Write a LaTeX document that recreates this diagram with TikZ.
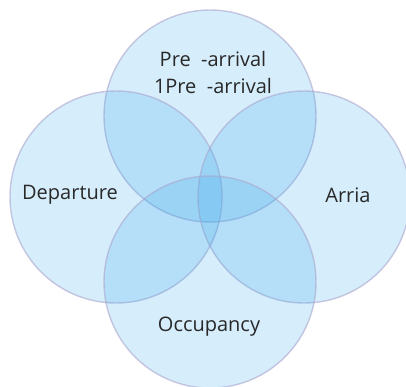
\documentclass[tikz,border=0pt]{standalone}
\usepackage{fontspec}
\setmainfont{Open Sans}
\begin{document}
\begin{tikzpicture}[x=1pt,y=-1pt,
  venn/.style={circle,minimum size=212pt,inner sep=0pt,fill={rgb,255:red,50;green,165;blue,235},fill opacity=0.2,draw={rgb,255:red,170;green,165;blue,205},draw opacity=0.6,line width=1.4pt},
  lbl/.style={text={rgb,255:red,40;green,40;blue,40},font=\fontsize{20}{27}\selectfont,align=center}]
\useasboundingbox (0,0) rectangle (406,386);
\node[venn] (top) at (210,116) {};
\node[venn] (left) at (116,197) {};
\node[venn] (right) at (304,197) {};
\node[venn] (bottom) at (210,282) {};
\node[lbl] (tl) at (213,72) {Pre\ \ -arrival\\1Pre\ \ -arrival};
\node[lbl] (dl) at (70,195) {Departure};
\node[lbl] (al) at (348,195) {Arria};
\node[lbl] (ol) at (209,327) {Occupancy};
\end{tikzpicture}
\end{document}
